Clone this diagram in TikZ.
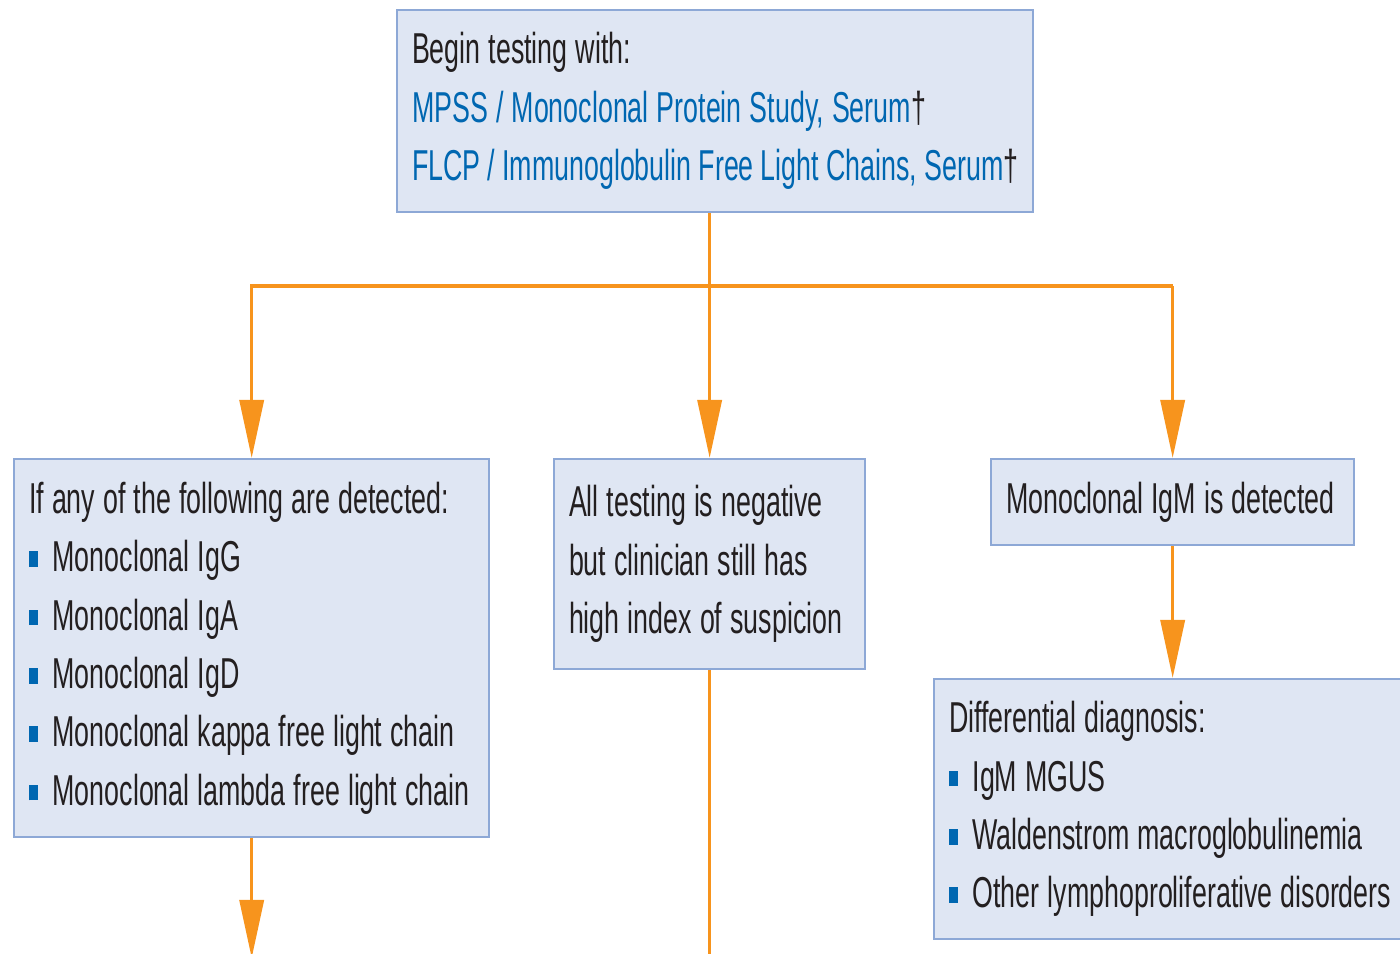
\documentclass[tikz,border=0pt]{standalone}
\usepackage{fontspec}
\setmainfont{Liberation Sans}[FakeStretch=0.62]
\usetikzlibrary{arrows.meta}

\definecolor{boxfill}{RGB}{223,230,243}
\definecolor{boxline}{RGB}{141,168,214}
\definecolor{linkblue}{RGB}{0,103,177}
\definecolor{flowline}{RGB}{247,148,29}
\definecolor{ink}{RGB}{35,31,32}

\hyphenpenalty=10000
\newcommand{\itm}{\makebox[0.235cm][l]{\color{linkblue}\rule[0.05cm]{0.09cm}{0.155cm}}}

\tikzset{
    box/.style={draw=boxline, fill=boxfill, line width=0.6pt, anchor=north west,
        inner xsep=0.15cm, inner ysep=0pt, align=left, text=ink,
        font=\fontsize{12.3pt}{16.6pt}\selectfont,
        execute at begin node={\spaceskip=2.3pt plus 1pt minus 0.5pt}},
    link/.style={draw=flowline, line width=1pt},
    flow/.style={link, -{Triangle[length=0.58cm, width=0.24cm]}},
}

\begin{document}
\begin{tikzpicture}[x=0.01cm, y=-0.01cm]
        \useasboundingbox (0,0) rectangle (1400,953);

        \node[box, text width=6.06cm, minimum height=2.02cm] (begin) at (396,9)
            {Begin testing with:\\
             \textcolor{linkblue}{MPSS / Monoclonal Protein Study, Serum}†\\
             \textcolor{linkblue}{FLCP / Immunoglobulin Free Light Chains, Serum}†}; % top
        \node[box, text width=4.45cm, minimum height=3.78cm] (anyof) at (13,458)
            {If any of the following are detected:\\
             \itm Monoclonal IgG\\
             \itm Monoclonal IgA\\
             \itm Monoclonal IgD\\
             \itm Monoclonal kappa free light chain\\
             \itm Monoclonal lambda free light chain}; % left
        \node[box, text width=2.81cm, minimum height=2.10cm] (neg) at (553,458)
            {All testing is negative\\
             but clinician still has\\
             high index of suspicion}; % middle
        \node[box, text width=3.33cm, minimum height=0.86cm] (igm) at (990,458)
            {Monoclonal IgM is detected}; % right
        \node[box, text width=5.00cm, minimum height=2.60cm] (diff) at (933,678)
            {Differential diagnosis:\\
             \itm IgM MGUS\\
             \itm Waldenstrom macroglobulinemia\\
             \itm Other lymphoproliferative disorders}; % bottom right

        \coordinate (bus) at (0,286);
        \coordinate (edge) at (0,958);

        \draw[flow] (begin.south -| neg.north) -- (neg.north);
        \draw[flow] (igm.north |- bus) -| (anyof.north);
        \draw[flow] (igm.north |- bus) -- (igm.north);
        \draw[flow] (igm.south) -- (igm.south |- diff.north);
        \draw[flow] (anyof.south) -- (anyof.south |- edge);
        \draw[link] (neg.south) -- (neg.south |- edge);
    \end{tikzpicture}
\end{document}
